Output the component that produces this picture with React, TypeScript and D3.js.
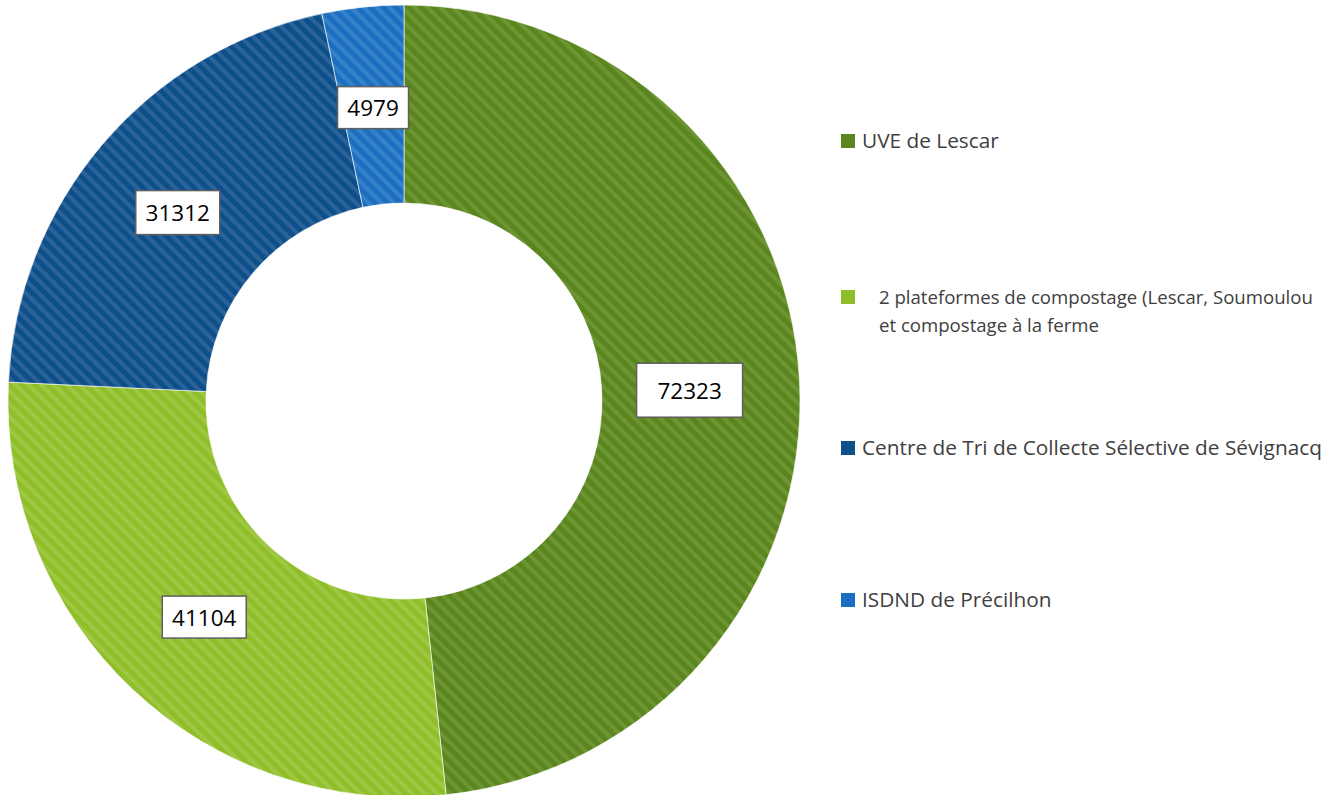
import React from "react";
import * as d3 from "d3";

// ---- data ----
const categories = [
  "UVE de Lescar",
  "2 plateformes de compostage (Lescar, Soumoulou et compostage à la ferme",
  "Centre de Tri de Collecte Sélective de Sévignacq",
  "ISDND de Précilhon",
];
const values = [72323, 41104, 31312, 4979];
const legendLines = [
  ["UVE de Lescar"],
  ["2 plateformes de compostage (Lescar, Soumoulou", "et compostage à la ferme"],
  ["Centre de Tri de Collecte Sélective de Sévignacq"],
  ["ISDND de Précilhon"],
];

// ---- styles ----
const W = 1331;
const H = 795;
const cx = 404;
const cy = 401;
const outerR = 396;
const innerR = 198;
const baseColors = ["#5b851e", "#8fbe28", "#0c4f8b", "#1c6fc0"];
const stripeColors = ["#6c9534", "#9ec844", "#2b6399", "#3581ca"];
const boxSizes = [
  [106, 54],
  [84, 42],
  [84, 44],
  [71, 42],
];
const boxOffsets = [
  [-11, 5],
  [4, 0],
  [0, 4],
  [0, 2],
];
const legendSwatchX = 841;
const legendTextX = [862, 879, 862, 862];
const legendBaseY = [148, 304, 455, 607];
const legendFontSize = [20.8, 18.6, 20.8, 20.8];
const legendLineGap = 28;
const fontFamily = "'Open Sans', 'Liberation Sans', sans-serif";
const stripePeriod = 9;

export default function App() {
  const pie = d3
    .pie<number>()
    .sort(null)
    .value((d) => d)(values);
  const arc = d3.arc<d3.PieArcDatum<number>>().innerRadius(innerR).outerRadius(outerR);
  const fmt = d3.format("d");

  return (
    <svg
      width={W}
      height={H}
      style={{ position: "absolute", left: 0, top: 0, background: "#fff" }}
    >
      <defs>
        {baseColors.map((c, i) => (
          <pattern
            key={i}
            id={`stripe${i}`}
            patternUnits="userSpaceOnUse"
            width={stripePeriod}
            height={stripePeriod}
            patternTransform="rotate(45)"
          >
            <rect width={stripePeriod} height={stripePeriod} fill={c} />
            <rect width={stripePeriod} height={stripePeriod * 0.45} fill={stripeColors[i]} />
          </pattern>
        ))}
      </defs>
      <g transform={`translate(${cx},${cy})`}>
        {pie.map((p, i) => (
          <path
            key={i}
            d={arc(p) || ""}
            fill={`url(#stripe${i})`}
            stroke="#ffffff"
            strokeOpacity={0.6}
            strokeWidth={1}
          />
        ))}
        {pie.map((p, i) => {
          const [x, y] = arc.centroid(p);
          const [bw, bh] = boxSizes[i];
          const bx = x + boxOffsets[i][0];
          const by = y + boxOffsets[i][1];
          return (
            <g key={i} transform={`translate(${bx},${by})`}>
              <rect
                x={-bw / 2}
                y={-bh / 2}
                width={bw}
                height={bh}
                fill="#ffffff"
                stroke="#5f5f5f"
                strokeWidth={1.5}
              />
              <text
                textAnchor="middle"
                dominantBaseline="central"
                fontFamily={fontFamily}
                fontSize={22.5}
                fill="#000"
              >
                {fmt(values[i])}
              </text>
            </g>
          );
        })}
      </g>
      <g>
        {categories.map((c, i) => (
          <g key={c}>
            <rect
              x={legendSwatchX}
              y={legendBaseY[i] - 14}
              width={14}
              height={14}
              fill={baseColors[i]}
            />
            <text fontFamily={fontFamily} fontSize={legendFontSize[i]} fill="#404040">
              {legendLines[i].map((line, j) => (
                <tspan key={j} x={legendTextX[i]} y={legendBaseY[i] + j * legendLineGap}>
                  {line}
                </tspan>
              ))}
            </text>
          </g>
        ))}
      </g>
    </svg>
  );
}
